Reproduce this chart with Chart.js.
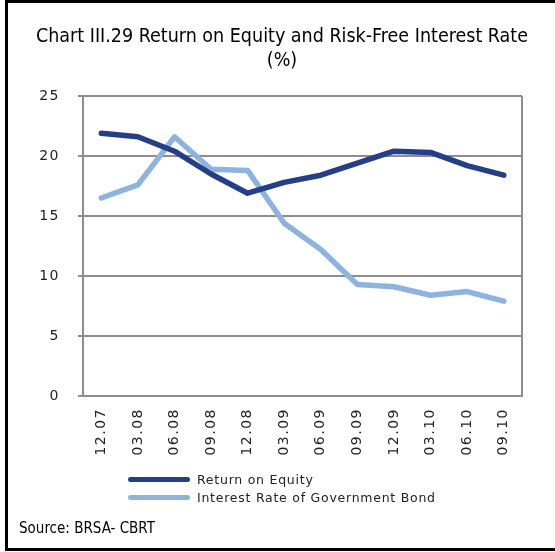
<!DOCTYPE html>
<html>
<head>
<meta charset="utf-8">
<script src="https://cdn.jsdelivr.net/npm/chart.js@4.4.1/dist/chart.umd.min.js"></script>
<style>
  html, body { margin: 0; padding: 0; background: #fff; }
  body { width: 555px; height: 552px; position: relative; overflow: hidden; }
  #frame {
    position: absolute; left: 5px; top: 0; width: 600px; height: 551px;
    box-sizing: border-box; border: 3px solid #000; pointer-events: none;
  }
  #title {
    position: absolute; left: 0; top: 24px; width: 564px; text-align: center;
    font-family: "DejaVu Sans Condensed", "Liberation Sans", sans-serif;
    font-size: 19.5px; line-height: 24px; color: #000;
  }
  #wrap { position: absolute; left: 0; top: 0; width: 555px; height: 552px; }
  #legend {
    position: absolute; left: 128px; top: 470px;
    font-family: "DejaVu Sans", sans-serif; font-size: 12.5px; color: #222;
    letter-spacing: 0.75px;
  }
  .item { height: 18px; display: flex; align-items: center; }
  .swatch { width: 62px; height: 5px; border-radius: 3px; margin-right: 7px; }
  #source {
    position: absolute; left: 19px; top: 519px;
    font-family: "DejaVu Sans Condensed", "Liberation Sans", sans-serif;
    font-size: 15px; color: #000;
  }
</style>
</head>
<body>
<div id="wrap"><canvas id="c" width="555" height="552"></canvas></div>
<div id="title">Chart III.29 Return on Equity and Risk-Free Interest Rate<br>(%)</div>
<div id="legend"></div>
<div id="source">Source: BRSA- CBRT</div>
<div id="frame"></div>
<script>
// Quarter-end periods (month.year)
const periods = ["12.07","03.08","06.08","09.08","12.08","03.09","06.09","09.09","12.09","03.10","06.10","09.10"];
// Return on equity of the banking sector (%)
const returnOnEquity = [21.9, 21.6, 20.4, 18.5, 16.9, 17.8, 18.4, 19.4, 20.4, 20.3, 19.2, 18.4];
// Interest rate of government bond (%)
const bondRate = [16.5, 17.6, 21.6, 18.9, 18.8, 14.4, 12.2, 9.3, 9.1, 8.4, 8.7, 7.9];
const seriesNames = ["Return on Equity", "Interest Rate of Government Bond"];
const seriesColors = ["#243F88", "#8DB4E0"];
const yTicks = [0, 5, 10, 15, 20, 25];

const gridGray = "#8E8E8E";
const tickFont = { family: "DejaVu Sans", size: 14 };

// Wider tracking for the axis labels, plus the right edge of the plot frame
const frameRight = {
  id: "frameRight",
  beforeDraw(chart) {
    chart.ctx.letterSpacing = "1.5px";
  },
  afterDraw(chart) {
    const { ctx, chartArea: a } = chart;
    ctx.save();
    ctx.strokeStyle = gridGray;
    ctx.lineWidth = 2;
    ctx.beginPath();
    ctx.moveTo(a.right, a.top);
    ctx.lineTo(a.right, a.bottom);
    ctx.stroke();
    ctx.restore();
  }
};

new Chart(document.getElementById("c"), {
  type: "line",
  data: {
    labels: periods,
    datasets: [
      { label: seriesNames[0], data: returnOnEquity, borderColor: seriesColors[0], backgroundColor: seriesColors[0] },
      { label: seriesNames[1], data: bondRate, borderColor: seriesColors[1], backgroundColor: seriesColors[1] }
    ]
  },
  options: {
    responsive: false,
    animation: false,
    devicePixelRatio: 1,
    layout: { padding: { left: 0, top: 96, right: 33, bottom: 86 } },
    elements: {
      line: { borderWidth: 5.5, tension: 0, borderCapStyle: "round", borderJoinStyle: "round" },
      point: { radius: 0, hoverRadius: 0 }
    },
    plugins: { legend: { display: false }, title: { display: false }, tooltip: { enabled: false } },
    scales: {
      x: {
        offset: true,
        grid: { display: false, drawTicks: false },
        border: { color: gridGray, width: 2 },
        ticks: { color: "#222", font: tickFont, minRotation: 90, maxRotation: 90, padding: 12, autoSkip: false },
        afterFit(s) { s.height = 70; }
      },
      y: {
        min: 0, max: 25,
        afterBuildTicks(s) { s.ticks = yTicks.map(v => ({ value: v })); },
        grid: { color: gridGray, lineWidth: 2, tickLength: 5 },
        border: { color: gridGray, width: 2 },
        ticks: { color: "#222", font: tickFont, padding: 18 },
        afterFit(s) { s.width = 83; }
      }
    }
  },
  plugins: [frameRight]
});

// Legend built from the same series definitions
const legend = document.getElementById("legend");
seriesNames.forEach((name, i) => {
  const row = document.createElement("div");
  row.className = "item";
  const sw = document.createElement("span");
  sw.className = "swatch";
  sw.style.background = seriesColors[i];
  const tx = document.createElement("span");
  tx.textContent = name;
  row.appendChild(sw);
  row.appendChild(tx);
  legend.appendChild(row);
});
</script>
</body>
</html>
